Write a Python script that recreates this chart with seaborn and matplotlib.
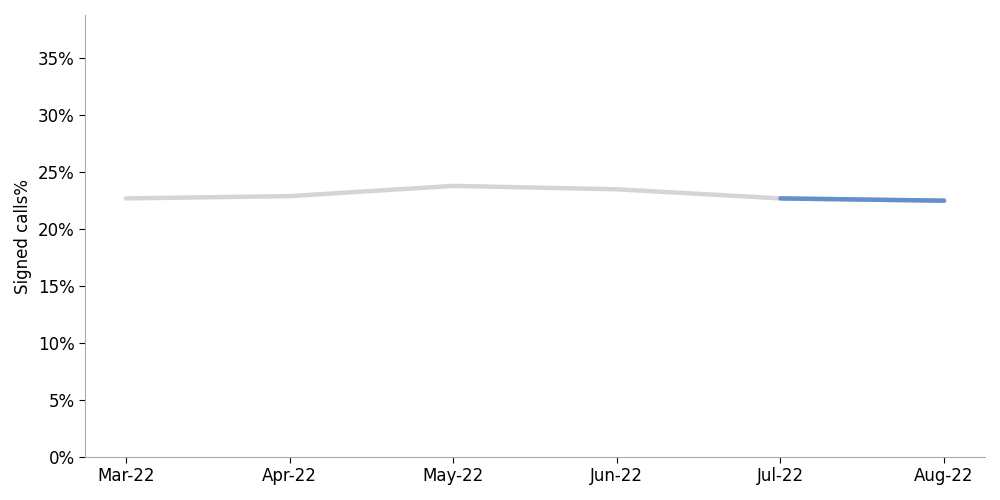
import pandas as pd
import matplotlib.pyplot as plt
import seaborn as sns
from matplotlib.ticker import PercentFormatter

# monthly signed-call rate
months = ['Mar-22', 'Apr-22', 'May-22', 'Jun-22', 'Jul-22', 'Aug-22']
signed_pct = [0.227, 0.229, 0.238, 0.235, 0.227, 0.225]
highlight_from = 'Jul-22'

sns.set_style('white')
plt.rcParams['font.family'] = ['DejaVu Sans']
plt.rcParams['text.color'] = 'black'
plt.rcParams['axes.labelcolor'] = 'black'
plt.rcParams['xtick.color'] = 'black'
plt.rcParams['ytick.color'] = 'black'

df = pd.DataFrame({'Month': months, 'Signed': signed_pct})
df['x'] = range(len(df))
recent = df[df['x'] >= months.index(highlight_from)]

fig, ax = plt.subplots(figsize=(10, 5), dpi=100)
sns.lineplot(data=df, x='x', y='Signed', color='#d5d5d5', linewidth=3.2, ax=ax)
sns.lineplot(data=recent, x='x', y='Signed', color='#6190cc', linewidth=3.2, ax=ax)

ax.set_xlim(-0.25, len(months) - 0.75)
ax.set_ylim(0, 0.388)
ax.set_xticks(df['x'])
ax.set_xticklabels(months)
ax.yaxis.set_major_formatter(PercentFormatter(1.0, decimals=0))
ax.set_yticks([i / 100 for i in range(0, 40, 5)])
ax.set_xlabel('')
ax.set_ylabel('Signed calls%', fontsize=12)
ax.tick_params(axis='both', labelsize=12, length=4, left=True, bottom=True)

sns.despine(ax=ax)
for side in ['left', 'bottom']:
    ax.spines[side].set_color('#aaaaaa')

plt.subplots_adjust(left=0.085, right=0.985, top=0.97, bottom=0.086)
plt.savefig('out.png')
plt.close()
